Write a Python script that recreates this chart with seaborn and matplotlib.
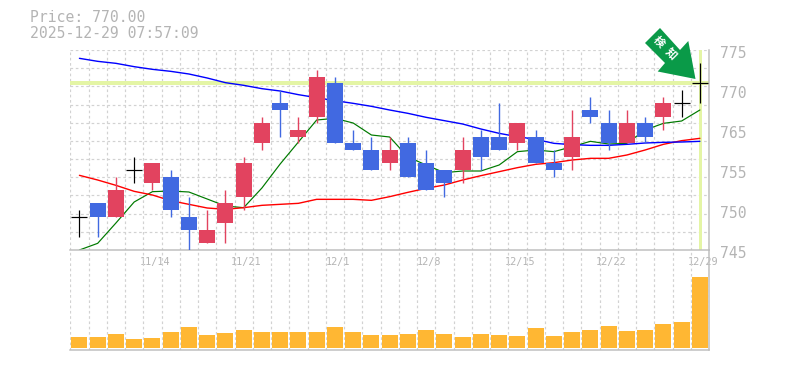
import numpy as np
import matplotlib
matplotlib.use("Agg")
import matplotlib.pyplot as plt
from matplotlib.patches import Polygon
import seaborn as sns

# --- Data ---
opens = [750, 752, 750, 757, 755, 756, 750, 746, 749, 753, 761, 767, 762, 765, 770, 761, 760, 758,
         761, 758, 757, 757, 762, 762, 761, 762, 758, 759, 766, 764, 761, 764, 765, 767, 770]
closes = [750, 750, 754, 757, 758, 751, 748, 748, 752, 758, 764, 766, 763, 771, 761, 760, 757, 760,
          756, 754, 755, 760, 759, 760, 764, 758, 757, 762, 765, 761, 764, 762, 767, 767, 770]
highs = [751, 752, 756, 759, 758, 757, 753, 751, 754, 759, 765, 769, 765, 772, 771, 763, 762, 762,
         762, 760, 757, 762, 763, 767, 764, 763, 760, 766, 768, 766, 766, 765, 768, 769, 773]
lows = [747, 747, 750, 755, 754, 750, 745, 746, 746, 751, 760, 762, 761, 764, 761, 760, 757, 757,
        756, 754, 753, 755, 757, 760, 760, 758, 756, 757, 764, 760, 761, 761, 763, 765, 767]
ma_green = [745.0, 746.0, 749.05, 752.2, 753.75, 753.85, 753.7, 752.65, 751.6, 751.35, 754.3, 757.9,
            761.2, 764.5, 764.75, 764.05, 762.25, 761.95, 758.95, 757.75, 756.6, 756.85, 756.85, 757.75,
            759.75, 760.0, 759.75, 760.5, 761.3, 760.9, 761.0, 763.0, 764.0, 764.35, 766.0]
ma_red = [756.2, 755.5, 754.7, 753.8, 753.25, 752.4, 751.85, 751.3, 751.1, 751.35, 751.7, 751.85,
          752.0, 752.6, 752.6, 752.6, 752.45, 753.0, 753.65, 754.25, 754.75, 755.5, 756.15, 756.75,
          757.35, 757.85, 758.1, 758.5, 758.75, 758.75, 759.25, 760.0, 760.85, 761.4, 761.75]
ma_blue = [773.75, 773.3, 773.0, 772.5, 772.1, 771.8, 771.4, 770.8, 770.1, 769.7, 769.2, 768.85,
           768.3, 767.85, 767.4, 767.0, 766.55, 766.0, 765.5, 764.9, 764.4, 763.9, 763.15, 762.5,
           762.0, 761.6, 761.0, 760.8, 760.7, 760.7, 760.85, 761.05, 761.15, 761.2, 761.3]
volumes = [11.3, 11.3, 14.3, 9.3, 10.3, 16.3, 21.3, 13.3, 15.3, 18.3, 16.3, 16.3, 16.3, 16.3, 21.3, 16.3, 13.3, 13.3,
           14.3, 18.3, 14.3, 11.3, 14.3, 13.3, 12.3, 20.3, 12.3, 16.3, 18.3, 22.3, 17.3, 18.3, 24.3, 26.3, 71.3]
date_pos = [4, 9, 14, 19, 24, 29, 34]
date_labels = ["11/14", "11/21", "12/1", "12/8", "12/15", "12/22", "12/29"]
price_ticks = [775, 769, 763, 757, 751, 745]
price_labels = ["775", "770", "765", "755", "750", "745"]
last_price = 770

# --- Style ---
UP = "#E2435F"
DOWN = "#4169E1"
VOL = "#FFB733"
GRID = "#D2D2D2"
AXIS = "#BEBEBE"
TEXT = "#B4B4B4"
HILITE = "#E4F5A5"
W, H = 785, 370
PX = 0.72  # one pixel in points
DASH = (0, (2.2, 2.2))

sns.set_theme(style="white")
plt.rcParams["font.family"] = ["DejaVu Sans Mono"]

idx = np.arange(len(closes))
fig = plt.figure(figsize=(W / 100, H / 100), dpi=100)
ax = fig.add_axes([70.3 / W, 1 - 250 / H, 638.7 / W, 200 / H])
ax_vol = fig.add_axes([70.3 / W, 1 - 350 / H, 638.7 / W, 100 / H])

for a in (ax, ax_vol):
    a.patch.set_alpha(0)
    for side in ("top", "left"):
        a.spines[side].set_visible(False)
    for side in ("bottom", "right"):
        a.spines[side].set_color(AXIS)
        a.spines[side].set_linewidth(1.5 * PX)

edges = np.arange(len(closes) + 1) - 0.5
ax.vlines(edges, 745, 775, color=GRID, lw=1.2 * PX, linestyles=DASH, zorder=0)
ax.hlines(np.linspace(745, 775, 12)[1:], -0.5, len(closes) - 0.5,
          color=GRID, lw=1.2 * PX, linestyles=DASH, zorder=0)

# current price marker
ax.axhline(last_price, color=HILITE, lw=4 * PX, zorder=1)
ax.axvline(idx[-1], color=HILITE, lw=3 * PX, zorder=1)

# moving averages
sns.lineplot(x=idx, y=ma_green, color="#007A00", lw=1.2 * PX, ax=ax, zorder=2)
sns.lineplot(x=idx, y=ma_red, color="#FF0000", lw=1.4 * PX, ax=ax, zorder=2)
sns.lineplot(x=idx, y=ma_blue, color="#0000FF", lw=1.4 * PX, ax=ax, zorder=2)

# candles
for i, (o, c, h, l) in enumerate(zip(opens, closes, highs, lows)):
    if o == c:
        ax.vlines(i, l, h, color="black", lw=1.2 * PX, zorder=4)
        ax.hlines(c, i - 0.44, i + 0.44, color="black", lw=1.2 * PX, zorder=4)
        continue
    col = UP if c > o else DOWN
    ax.vlines(i, l, h, color=col, lw=1.4 * PX, zorder=3)
    ax.bar(i, abs(c - o), bottom=min(o, c), width=0.88, color=col, linewidth=0, zorder=3)

ax.set_ylim(745, 775)
ax.set_xlim(-0.5, len(closes) - 0.5)
ax.set_xticks([])
ax.set_yticks([])
ax.set_xlabel("")
ax.set_ylabel("")

for val, lab in zip(price_ticks, price_labels):
    ax.annotate(lab, xy=(1, val), xycoords=("axes fraction", "data"), xytext=(8, -2.2),
                textcoords="offset points", va="center", ha="left", fontsize=10.6,
                color=TEXT, annotation_clip=False, zorder=6)
for pos, lab in zip(date_pos, date_labels):
    ax.annotate(lab, xy=(pos, 0), xycoords=("data", "axes fraction"), xytext=(2, -8.8),
                textcoords="offset points", va="center", ha="center", fontsize=7.3,
                color=TEXT, annotation_clip=False, zorder=6)

# volume
ax_vol.vlines(edges, -2, 98, color=GRID, lw=1.2 * PX, linestyles=DASH, zorder=0)
sns.barplot(x=idx, y=volumes, native_scale=True, color=VOL, saturation=1, width=0.88,
            linewidth=0, ax=ax_vol, zorder=2)
ax_vol.set_xlim(-0.5, len(closes) - 0.5)
ax_vol.set_ylim(-2, 98)
ax_vol.set_xticks([])
ax_vol.set_yticks([])
ax_vol.set_xlabel("")
ax_vol.set_ylabel("")

# header
fig.text(30 / W, 1 - 18 / H, f"Price: {last_price:.2f}", fontsize=10.65, color=TEXT, va="center")
fig.text(30 / W, 1 - 33 / H, "2025-12-29 07:57:09", fontsize=10.65, color=TEXT, va="center")

# green stamp arrow
arrow_px = [(660, 28), (645, 43), (665, 63), (657.7, 71.5), (695.5, 79), (688.3, 41), (680, 50)]
fig.add_artist(Polygon([(x / W, 1 - y / H) for x, y in arrow_px], closed=True,
                       transform=fig.transFigure, facecolor="#0A9A48", edgecolor="none", zorder=8))
for ch, (tx, ty) in zip("検知", [(659, 42), (671, 54)]):
    fig.text(tx / W, 1 - ty / H, ch, fontsize=8, color="white", fontweight="bold",
             family=["Noto Sans CJK JP", "DejaVu Sans"], rotation=-45, rotation_mode="anchor",
             ha="center", va="center", zorder=9)

fig.savefig("out.png", dpi=100, facecolor="white")
